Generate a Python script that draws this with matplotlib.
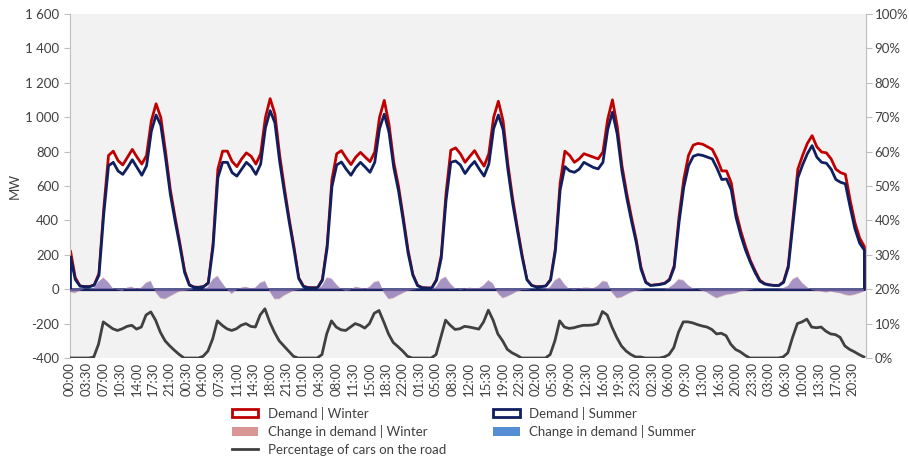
import numpy as np
import matplotlib.pyplot as plt
from matplotlib.patches import Patch
from matplotlib.lines import Line2D

plt.rcParams['font.family'] = ['Lato', 'DejaVu Sans']

# hourly readings (00:00 ... 23:00), one row per day, MW
winter_demand = [
    [225, 70, 22, 18, 18, 28, 95, 470, 780, 805, 750, 725, 770, 815, 770, 730, 780, 980, 1080, 1000, 800, 580, 420, 270],
    [110, 28, 15, 14, 18, 40, 270, 700, 805, 805, 745, 715, 760, 795, 775, 730, 790, 1000, 1110, 1020, 780, 590, 410, 250],
    [70, 20, 12, 11, 12, 60, 260, 640, 790, 808, 765, 727, 770, 798, 770, 744, 800, 1000, 1100, 960, 740, 600, 420, 230],
    [90, 25, 12, 10, 10, 60, 200, 560, 810, 824, 790, 740, 775, 808, 760, 718, 790, 1000, 1095, 980, 730, 530, 360, 200],
    [60, 25, 17, 18, 22, 60, 240, 620, 805, 780, 740, 760, 790, 780, 770, 760, 800, 990, 1103, 950, 720, 560, 420, 290],
    [130, 45, 25, 28, 32, 38, 60, 140, 420, 640, 780, 840, 850, 845, 830, 815, 760, 690, 690, 620, 450, 340, 250, 170],
    [110, 55, 35, 28, 25, 25, 45, 140, 420, 700, 780, 850, 895, 830, 800, 795, 760, 700, 680, 670, 520, 390, 300, 250],
]
summer_demand = [
    [190, 60, 20, 17, 17, 26, 85, 440, 720, 740, 690, 670, 710, 755, 710, 665, 720, 920, 1015, 955, 765, 555, 400, 255],
    [100, 26, 14, 13, 17, 38, 250, 650, 740, 740, 680, 660, 700, 740, 715, 670, 730, 940, 1040, 970, 745, 565, 395, 235],
    [65, 18, 11, 10, 11, 55, 245, 600, 725, 742, 700, 665, 710, 740, 712, 682, 740, 935, 1020, 915, 710, 575, 400, 215],
    [85, 23, 11, 9, 9, 55, 185, 520, 740, 748, 725, 675, 715, 745, 700, 660, 730, 935, 1015, 930, 700, 505, 345, 190],
    [58, 24, 16, 17, 21, 56, 225, 580, 715, 690, 682, 700, 740, 725, 710, 702, 740, 930, 1031, 905, 690, 535, 400, 275],
    [120, 42, 24, 27, 30, 36, 56, 130, 390, 595, 720, 775, 785, 780, 770, 760, 705, 640, 643, 580, 420, 315, 230, 160],
    [100, 50, 33, 27, 24, 24, 42, 130, 390, 650, 725, 790, 837, 770, 740, 735, 700, 640, 624, 615, 480, 355, 270, 230],
]
winter_change = [
    [-20, -25, -10, 0, 0, 5, 40, 70, 45, 5, -5, -10, 10, 15, 0, 10, 40, 50, -20, -55, -60, -45, -30, -15],
    [-10, -5, 0, 0, 0, 15, 60, 80, 40, 0, -30, -5, 10, 15, 5, 10, 40, 50, -15, -60, -60, -40, -25, -10],
    [-5, 0, 0, 0, 0, 20, 70, 65, 30, 0, -10, -5, 15, 10, 0, 15, 45, 50, -20, -60, -55, -40, -25, -10],
    [-5, 0, 0, 0, 0, 15, 60, 75, 35, 5, -5, 0, 10, 5, 5, 25, 55, 35, -25, -55, -45, -30, -15, -5],
    [-5, 0, 0, 0, 0, 15, 55, 70, 30, 0, -5, 0, 10, 10, 5, 20, 50, 45, -20, -55, -50, -35, -20, -10],
    [-5, 0, 0, 0, 0, 0, 10, 30, 60, 55, 25, 5, 0, -10, -20, -40, -55, -45, -35, -30, -25, -15, -10, -5],
    [0, 0, 0, 0, 0, 0, 5, 20, 60, 75, 40, 15, -5, -10, -15, -20, -15, -20, -25, -35, -40, -35, -25, -15],
]
summer_change = [
    [-15, -20, -8, 0, 0, 8, 45, 65, 40, 5, -5, -8, 8, 12, 0, 8, 35, 45, -15, -50, -55, -40, -25, -12],
    [-8, -5, 0, 0, 0, 12, 55, 75, 35, 0, -25, -5, 8, 12, 5, 8, 35, 45, -12, -55, -55, -35, -22, -8],
    [-5, 0, 0, 0, 0, 18, 65, 60, 28, 0, -8, -5, 12, 8, 0, 12, 40, 45, -18, -55, -50, -35, -22, -8],
    [-5, 0, 0, 0, 0, 12, 55, 70, 30, 5, -5, 0, 8, 5, 5, 22, 50, 30, -22, -50, -40, -28, -12, -5],
    [-5, 0, 0, 0, 0, 12, 50, 65, 28, 0, -5, 0, 8, 8, 5, 18, 45, 40, -18, -50, -45, -30, -18, -8],
    [-5, 0, 0, 0, 0, 0, 8, 28, 55, 50, 22, 5, 0, -8, -18, -35, -50, -40, -30, -28, -22, -12, -8, -5],
    [0, 0, 0, 0, 0, 0, 5, 18, 55, 70, 35, 12, -5, -8, -12, -18, -12, -18, -22, -30, -35, -30, -22, -12],
]
# percentage of cars on the road (right axis)
cars_pct = [
    [0, 0, 0, 0, 0, 0.3, 4, 10.5, 9.5, 8.5, 8, 8.5, 9.2, 9.5, 8.4, 9, 12.5, 13.4, 11, 7.5, 5, 3.5, 2.2, 1],
    [0, 0, 0, 0, 0.5, 2, 5.5, 10.8, 9.5, 8.5, 8, 8.5, 9.5, 10, 9.2, 9, 12.5, 14.3, 10.5, 7.5, 5, 3.5, 2, 0.5],
    [0, 0, 0, 0, 0, 1, 7, 10.8, 9, 8.2, 8, 9, 10, 9.5, 8.7, 10, 13, 13.8, 10.5, 7, 4.5, 3.3, 2, 0.5],
    [0, 0, 0, 0, 0, 1, 6, 11, 9.5, 8.3, 8.5, 9.2, 9, 8.7, 8.4, 10.5, 13.9, 11, 7, 5, 2.5, 1.5, 0.8, 0],
    [0, 0, 0, 0, 0, 1, 5, 10.8, 9, 8.6, 8.8, 9.2, 9.5, 9.5, 9.6, 10, 13.5, 12.5, 9, 6, 3.5, 2, 1, 0.3],
    [0.3, 0, 0, 0, 0, 0.3, 1, 3, 7.5, 10.5, 10.5, 10.2, 9.7, 9.3, 9, 8.3, 7, 7.2, 6.5, 4, 2.5, 1.8, 0.8, 0],
    [0, 0, 0, 0, 0, 0, 0.3, 1.5, 6, 10, 10.5, 11.3, 9, 8.8, 9, 7.8, 7, 6.8, 6, 3.5, 2.5, 1.8, 1, 0.3],
]

tick_labels = ['00:00', '03:30', '07:00', '10:30', '14:00', '17:30', '21:00',
               '00:30', '04:00', '07:30', '11:00', '14:30', '18:00', '21:30',
               '01:00', '04:30', '08:00', '11:30', '15:00', '18:30', '22:00',
               '01:30', '05:00', '08:30', '12:00', '15:30', '19:00', '22:30',
               '02:00', '05:30', '09:00', '12:30', '16:00', '19:30', '23:00',
               '02:30', '06:00', '09:30', '13:00', '16:30', '20:00', '23:30',
               '03:00', '06:30', '10:00', '13:30', '17:00', '20:30']
mw_ticks = [-400, -200, 0, 200, 400, 600, 800, 1000, 1200, 1400, 1600]
mw_labels = ['-400', '-200', '0', '200', '400', '600', '800', '1 000', '1 200', '1 400', '1 600']
pct_ticks = [0, 10, 20, 30, 40, 50, 60, 70, 80, 90, 100]

w = np.concatenate(winter_demand)
s = np.concatenate(summer_demand)
wc = np.concatenate(winter_change)
sc = np.concatenate(summer_change)
cars = np.concatenate(cars_pct)
x = np.arange(len(w)) * 2  # in half-hour slots

txt = '#404040'
fig = plt.figure(figsize=(9.09, 4.61), dpi=100)
ax = fig.add_axes([0.077, 0.2234, 0.876, 0.7466])
ax.set_facecolor('#f2f2f2')

ax.fill_between(x, 0, w, facecolor='white', edgecolor='#c00000', lw=2, zorder=2)
ax.fill_between(x, 0, s, facecolor='white', edgecolor='#0f1f5f', lw=2, zorder=3)
ax.fill_between(x, 0, wc, facecolor='#d99694', alpha=0.5, lw=0, zorder=4)
ax.fill_between(x, 0, sc, facecolor='#6060c0', alpha=0.5, lw=0, zorder=4)

ax.set_xlim(0, 335)
ax.set_ylim(-400, 1600)
ax.set_xticks(np.arange(0, 336, 7))
ax.set_xticklabels(tick_labels, rotation=90, fontsize=9.5, color=txt)
ax.set_yticks(mw_ticks)
ax.set_yticklabels(mw_labels, fontsize=9.5, color=txt)
ax.tick_params(axis='x', length=0, pad=3)
ax.tick_params(axis='y', length=4, color='#bfbfbf', pad=4)
ax.set_ylabel('MW', fontsize=9.5, color=txt, labelpad=3)
for side in ['top', 'bottom', 'right']:
    ax.spines[side].set_visible(False)
ax.spines['left'].set_color('#bfbfbf')

ax2 = ax.twinx()
ax2.plot(x, cars, color='#404040', lw=2)
ax2.set_ylim(0, 100)
ax2.set_yticks(pct_ticks)
ax2.set_yticklabels([f'{p}%' for p in pct_ticks], fontsize=9.5, color=txt)
ax2.tick_params(axis='y', length=4, color='#bfbfbf', pad=2)
for side in ['top', 'bottom', 'left']:
    ax2.spines[side].set_visible(False)
ax2.spines['right'].set_color('#bfbfbf')

handles = [
    Patch(facecolor='white', edgecolor='#c00000', lw=2),
    Patch(facecolor='#d99694'),
    Line2D([], [], color='#404040', lw=2),
    Patch(facecolor='white', edgecolor='#0f1f5f', lw=2),
    Patch(facecolor='#558ed5'),
]
labels = ['Demand | Winter', 'Change in demand | Winter', 'Percentage of cars on the road',
          'Demand | Summer', 'Change in demand | Summer']
fig.legend(handles, labels, ncol=2, loc='upper left', bbox_to_anchor=(0.248, 0.132),
           frameon=False, fontsize=9.5, borderpad=0, handlelength=2.0,
           handleheight=0.6, handletextpad=0.7, labelspacing=0.42, columnspacing=3.6,
           labelcolor=txt)

fig.savefig('out.png', dpi=100, facecolor='white')
